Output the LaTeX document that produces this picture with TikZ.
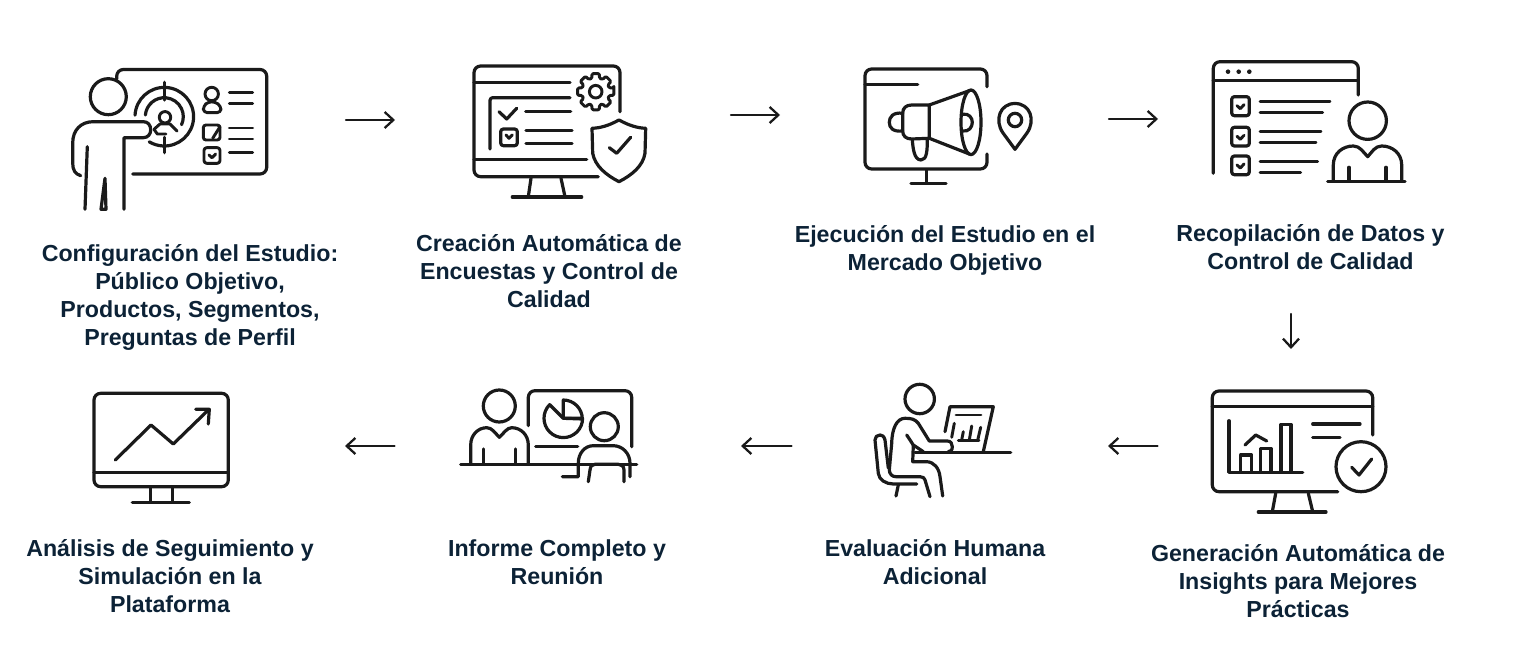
\documentclass[tikz,border=0pt]{standalone}
\usepackage{fontspec}
\setmainfont{Liberation Sans}
\usetikzlibrary{arrows.meta}
\definecolor{labelink}{HTML}{0C2236}
\definecolor{iconink}{HTML}{1A1A1A}
\tikzset{
  iconline/.style={draw=iconink,line width=2.4pt,line cap=round,line join=round},
  thinline/.style={draw=iconink,line width=2.2pt,line cap=round,line join=round},
  flowarrow/.style={draw=iconink,line width=1.7pt,line cap=round,-{Straight Barb[length=6.5pt,width=12pt,line width=1.7pt]}},
  steplabel/.style={align=center,text=labelink,font=\fontsize{17.4}{21}\selectfont\bfseries,inner sep=0.75pt}
}
\begin{document}
\begin{tikzpicture}[x=0.75pt,y=0.75pt,yscale=-1,xscale=1]
\useasboundingbox (0,0) rectangle (1513,655);

%Icon: presenter with target board
\draw [iconline,rounded corners=5] (116.7,79) -- (116.7,69.5) -- (266.7,69.5) -- (266.7,174) -- (132.7,174) ;
\draw [iconline] (108.3,96.7) circle (18) ;
\draw [iconline] (80.7,175.7) .. controls (75,174) and (72.7,170) .. (72.7,163) -- (72.7,143) .. controls (72.7,130) and (81,121.7) .. (93.3,121.7) -- (143.3,121.7) .. controls (148,121.7) and (150.7,125) .. (150.7,130) .. controls (150.7,134) and (148,137.7) .. (143.3,137.7) -- (124,137.7) -- (124,209.3) ;
\draw [iconline] (87.3,146.7) -- (85,209.3) ;
\draw [iconline] (101,209.3) -- (105,178.3) -- (106,209.3) -- cycle ;
\draw [iconline] (164.3,116.7) ++(-177:29.3) arc [start angle=-177,end angle=121,radius=29.3] ;
\draw [iconline] (164.3,116.7) ++(-175:19) arc [start angle=-175,end angle=25,radius=19] ;
\draw [iconline] (164.3,82.3) -- (164.3,100) ;
\draw [iconline] (164.3,137.3) -- (164.3,152.7) ;
\draw [thinline] (165,117.3) circle (5.7) ;
\draw [thinline] (154,129.3) -- (160,124) -- (170,124) -- (177,131) ;
\draw [thinline] (154,129.3) -- (157.3,134) -- (166,134) ;
\draw [thinline] (211.7,94) circle (6.7) ;
\draw [thinline,rounded corners=3] (203.3,112.7) -- (203.3,106) -- (208.3,101.7) -- (215,101.7) -- (221,106) -- (221,112.7) -- cycle ;
\draw [thinline] (229.3,92.3) -- (252.7,92.3) ;
\draw [thinline] (229.3,103.3) -- (252.7,103.3) ;
\draw [thinline] (229.3,128) -- (252.7,128) ;
\draw [thinline] (229.3,139) -- (252.7,139) ;
\draw [thinline] (229.3,152.3) -- (252.7,152.3) ;
\draw [thinline,rounded corners=2] (203.3,125) rectangle (220,140) ;
\draw [thinline] (220,126.7) -- (212.7,138.3) ;
\draw [thinline,rounded corners=2] (204,147.7) rectangle (220,163.3) ;
\draw [thinline] (209,155) -- (212,157.7) -- (215.7,154) ;

%Icon: monitor with gear and shield
\draw [iconline,rounded corners=5] (620,111.7) -- (620,66) -- (474,66) -- (474,176.7) -- (598.3,176.7) ;
\draw [iconline] (474,82.3) -- (570,82.3) ;
\draw [iconline] (474,159.3) -- (586.7,159.3) ;
\draw [iconline,rounded corners=2] (490,149) -- (490,97.7) -- (570,97.7) ;
\draw [iconline] (499,111.7) -- (506.7,119) -- (516.7,108.3) ;
\draw [iconline] (525.7,111.3) -- (570.7,111.3) ;
\draw [iconline] (526,130.3) -- (572,130.3) ;
\draw [iconline] (526,143.7) -- (572,143.7) ;
\draw [iconline,rounded corners=2] (500.7,129) rectangle (517.3,145.7) ;
\draw [thinline] (506,135) -- (509,138.3) -- (512.3,135) ;
\begin{scope}[shift={(595.7,91.7)}]
\draw [thinline] (0,0) circle (6.3) ;
\draw [thinline,rounded corners=1] (-12:18.5) \foreach \a in {0,45,...,315} { -- (\a-12:18.5) -- (\a+12:18.5) -- (\a+15:14) -- (\a+30:14) } -- cycle ;
\end{scope}
\draw [iconline] (619,120) .. controls (608,126) and (600,128) .. (592,128.3) -- (592.7,153.3) .. controls (595,166) and (606,175) .. (619,181.7) .. controls (632,175) and (643,166) .. (645,153.3) -- (645.7,128.3) .. controls (638,128) and (630,126) .. (619,120) -- cycle ;
\draw [iconline] (609.3,147.7) -- (616.7,153.3) -- (630.7,137.3) ;
\draw [iconline] (531,178.3) -- (528.3,196.7) ;
\draw [iconline] (561,178.3) -- (565,196.7) ;
\draw [iconline] (512.3,197) -- (581.7,197) ;

%Icon: monitor with megaphone and map pin
\draw [iconline,rounded corners=5] (987,86.7) -- (987,69) -- (865,69) -- (865,169) -- (987,169) -- (987,154) ;
\draw [iconline] (865,84.3) -- (917.7,84.3) ;
\draw [iconline] (926.7,170) -- (926.7,183.3) ;
\draw [iconline] (911,183.3) -- (946,183.3) ;
\draw [iconline] (971,122.3) ellipse (10 and 32.3) ;
\draw [iconline] (929.3,105) -- (969.3,90.7) ;
\draw [iconline] (929.3,138.3) -- (969.3,154) ;
\draw [iconline] (929.3,105) -- (911.7,105) .. controls (906,105) and (902.7,108) .. (902.7,113.3) -- (902.7,131) .. controls (902.7,136) and (906,139) .. (911.7,139) -- (929.3,138.3) -- cycle ;
\draw [iconline] (902.7,113.3) .. controls (893,112) and (889.3,117) .. (889.3,122.3) .. controls (889.3,128) and (893,132) .. (902.7,131) ;
\draw [iconline] (962.7,114.3) .. controls (969,113) and (972.3,118) .. (972.3,122.3) .. controls (972.3,127) and (969,132) .. (962.7,131) ;
\draw [iconline] (912.3,140) .. controls (913,148) and (914,160) .. (921,160) .. controls (927,160) and (927.3,150) .. (927.3,139) ;
\draw [iconline] (1015,120) circle (6.7) ;
\draw [iconline] (1015,149.3) -- (1003,133) .. controls (994,120) and (1000,103.5) .. (1015,103.5) .. controls (1030,103.5) and (1036,120) .. (1027,133) -- cycle ;

%Icon: window with checklist and person
\draw [iconline,rounded corners=5] (1358.3,95) -- (1358.3,61.7) -- (1213.3,61.7) -- (1213.3,173.3) ;
\draw [iconline] (1213.3,80.7) -- (1358.3,80.7) ;
\foreach \dotx in {1228,1238.7,1249.3} {
\fill [iconink] (\dotx,71.7) circle (2.3) ;
}
\foreach \boxy/\boxh in {96.7/115.7,127.3/146,156/174.7} {
\draw [iconline,rounded corners=2] (1231.7,\boxy) rectangle (1249.3,\boxh) ;
\draw [thinline] (1237,\boxy+9) -- (1240.3,\boxy+12) -- (1244,\boxy+8) ;
}
\draw [thinline] (1260,101.7) -- (1330,101.7) ;
\draw [thinline] (1260,112.3) -- (1322.7,112.3) ;
\draw [thinline] (1260,131.7) -- (1321,131.7) ;
\draw [thinline] (1260,142.3) -- (1316,142.3) ;
\draw [thinline] (1260,161.7) -- (1317.7,161.7) ;
\draw [thinline] (1260,172.3) -- (1300.7,172.3) ;
\draw [iconline] (1367.7,120.7) circle (18.7) ;
\draw [iconline] (1327.7,181.3) -- (1405,181.3) ;
\draw [iconline] (1333.3,180) -- (1333.3,165) .. controls (1333.3,153) and (1343,146) .. (1353.3,146) .. controls (1360,146) and (1363,152) .. (1367.7,156.7) .. controls (1372,152) and (1375,146) .. (1381.7,146) .. controls (1392,146) and (1401.7,153) .. (1401.7,165) -- (1401.7,180) ;
\draw [iconline] (1349,167.3) -- (1349,181) ;
\draw [iconline] (1386,167.3) -- (1386,181) ;

%Icon: monitor with bar chart and check
\draw [iconline,rounded corners=5] (1372.7,435) -- (1372.7,391) -- (1212.3,391) -- (1212.3,491.7) -- (1337.7,491.7) ;
\draw [iconline] (1212.3,406.7) -- (1372.7,406.7) ;
\draw [iconline] (1229,420.7) -- (1229,472.3) -- (1302.7,472.3) ;
\draw [iconline] (1240.7,471) -- (1240.7,455) -- (1251.7,455) -- (1251.7,471) ;
\draw [iconline] (1260.7,471) -- (1260.7,448.3) -- (1271,448.3) -- (1271,471) ;
\draw [iconline] (1281,471) -- (1281,424.3) -- (1291,424.3) -- (1291,471) ;
\draw [iconline] (1245,445) -- (1255.7,435) -- (1266.7,441) ;
\draw [iconline] (1312.7,424) -- (1360,424) ;
\draw [iconline] (1312.7,437.3) -- (1340,437.3) ;
\draw [iconline] (1361,466.7) circle (25) ;
\draw [iconline] (1351.7,467.3) -- (1359,475) -- (1371.7,459) ;
\draw [iconline] (1275.7,493.3) -- (1272.3,511.7) ;
\draw [iconline] (1308.3,493.3) -- (1312.7,511.7) ;
\draw [iconline] (1258.3,512) -- (1326,512) ;

%Icon: person seated at laptop
\draw [iconline] (919.7,399) circle (14.7) ;
\draw [iconline] (945,431.7) -- (950,406.7) -- (993.3,406.7) -- (983.3,451.7) ;
\draw [iconline] (915,452.7) -- (1010.7,452.7) ;
\draw [thinline] (956,415) -- (981,415) ;
\draw [thinline] (954.3,423.3) -- (951.7,437.3) ;
\draw [thinline] (958.3,440.7) -- (979,440.7) ;
\draw [thinline] (963.3,431.7) -- (961.7,440) ;
\draw [thinline] (971.7,426) -- (969.3,440) ;
\draw [thinline] (980.7,427.3) -- (977.7,440) ;
\draw [iconline] (889.3,470) -- (891.7,443.3) .. controls (892,428) and (897,418.3) .. (905,418.3) .. controls (911,418.3) and (915,419) .. (918.3,423.3) -- (929.3,441) -- (947.3,441) .. controls (951,441) and (952.3,444) .. (952.3,446.7) .. controls (952.3,450) and (951,451.7) .. (948.3,451.7) ;
\draw [iconline] (906.7,435) -- (913.3,445) -- (923.3,451.7) ;
\draw [iconline] (913.3,445) -- (912.7,461.7) -- (926.7,461.7) .. controls (934,462) and (939,468) .. (940,476.7) -- (942.7,496) ;
\draw [iconline] (889.3,470) .. controls (889.5,474) and (892,476.7) .. (896,476.7) -- (920,476.7) .. controls (923,476.7) and (924.5,478) .. (925,480) -- (930,496.7) ;
\draw [iconline] (888.3,468) -- (885,440) .. controls (884,436) and (882,435) .. (880,435) .. controls (877,435) and (875,437) .. (875,440) -- (878.3,473.3) .. controls (879,480) and (886,484) .. (893.3,484) -- (916.7,484) ;
\draw [iconline] (898.3,485) -- (896,496) ;

%Icon: meeting with pie chart board
\draw [iconline] (499.3,406) circle (16) ;
\draw [iconline,rounded corners=5] (528.3,425.7) -- (528.3,390.7) -- (631.7,390.7) -- (631.7,446.7) ;
\draw [iconline] (535.7,446.7) -- (577.7,446.7) ;
\draw [iconline] (460.7,464.7) -- (636.7,464.7) ;
\draw [iconline] (470.7,464) -- (470.7,445) .. controls (470.7,435) and (478,427.7) .. (486.7,427.7) .. controls (492,427.7) and (495,433) .. (499.3,437.3) .. controls (504,433) and (507,427.7) .. (511.7,427.7) .. controls (521,427.7) and (528.3,435) .. (528.3,445) -- (528.3,464) ;
\draw [iconline] (483.3,449) -- (483.3,464) ;
\draw [iconline] (515.7,449) -- (515.7,464) ;
\draw [iconline] (563.3,418.3) ++(-135:19.3) arc [start angle=-135,end angle=-360,radius=19.3] -- (563.3,418.3) -- cycle ;
\draw [iconline] (563.3,418.3) -- (563.3,400) arc [start angle=-90,end angle=0,radius=19] -- cycle ;
\draw [iconline] (604.3,426.7) circle (14) ;
\draw [iconline] (562.3,476.7) -- (578.3,476.7) -- (578.3,463.3) .. controls (578.3,453) and (585,445.7) .. (593.3,445.7) -- (613.3,445.7) .. controls (622,445.7) and (630,453) .. (630,463.3) -- (630,476.7) ;
\draw [iconline] (588.3,481.7) -- (590,470) .. controls (590.5,466) and (592,464.3) .. (595,464.3) -- (618.3,464.3) .. controls (621,464.3) and (624,466) .. (624,470) -- (624,481.7) ;

%Icon: monitor with rising arrow
\draw [iconline,rounded corners=5] (94,393.3) rectangle (228.3,486.7) ;
\draw [iconline] (94,472.3) -- (228.3,472.3) ;
\draw [iconline] (150.7,488.3) -- (150.7,502.3) ;
\draw [iconline] (172.3,488.3) -- (172.3,502.3) ;
\draw [iconline] (132.3,502.7) -- (189.3,502.7) ;
\draw [iconline] (115.3,460) -- (151,425) -- (173.3,444) -- (208.3,410) ;
\draw [iconline] (195.7,409.3) -- (209.3,409.3) -- (208.3,424) ;

% Arrow ends
\coordinate (configEnd) at (346,120) ;
\coordinate (creationStart) at (395,120) ;
\coordinate (creationEnd) at (731,115) ;
\coordinate (executionStart) at (780,115) ;
\coordinate (executionEnd) at (1109,119) ;
\coordinate (collectionStart) at (1158,119) ;
\coordinate (collectionEnd) at (1291,314) ;
\coordinate (insightStart) at (1291,349) ;
\coordinate (insightEnd) at (1157.5,446) ;
\coordinate (reviewStart) at (1108,446) ;
\coordinate (reviewEnd) at (791.5,446) ;
\coordinate (reportStart) at (741,446) ;
\coordinate (reportEnd) at (394.5,446) ;
\coordinate (followStart) at (345,446) ;
\draw [flowarrow] (configEnd) -- (creationStart) ;
\draw [flowarrow] (creationEnd) -- (executionStart) ;
\draw [flowarrow] (executionEnd) -- (collectionStart) ;
\draw [flowarrow] (collectionEnd) -- (insightStart) ;
\draw [flowarrow] (insightEnd) -- (reviewStart) ;
\draw [flowarrow] (reviewEnd) -- (reportStart) ;
\draw [flowarrow] (reportEnd) -- (followStart) ;

% Text Node
\draw (190,297.5) node (configLabel) [steplabel] {Configuración del Estudio:\\Público Objetivo,\\Productos, Segmentos,\\Preguntas de Perfil};
% Text Node
\draw (549,271.5) node (creationLabel) [steplabel] {Creación Automática de\\Encuestas y Control de\\Calidad};
% Text Node
\draw (945,250) node (executionLabel) [steplabel] {Ejecución del Estudio en el\\Mercado Objetivo};
% Text Node
\draw (1310.5,247.5) node (collectionLabel) [steplabel] {Recopilación de Datos y\\Control de Calidad};
% Text Node
\draw (1298,581.5) node (insightLabel) [steplabel] {Generación Automática de\\Insights para Mejores\\Prácticas};
% Text Node
\draw (935,562.5) node (reviewLabel) [steplabel] {Evaluación Humana\\Adicional};
% Text Node
\draw (557,562.5) node (reportLabel) [steplabel] {Informe Completo y\\Reunión};
% Text Node
\draw (170,576.5) node (followLabel) [steplabel] {Análisis de Seguimiento y\\Simulación en la\\Plataforma};

\end{tikzpicture}
\end{document}
